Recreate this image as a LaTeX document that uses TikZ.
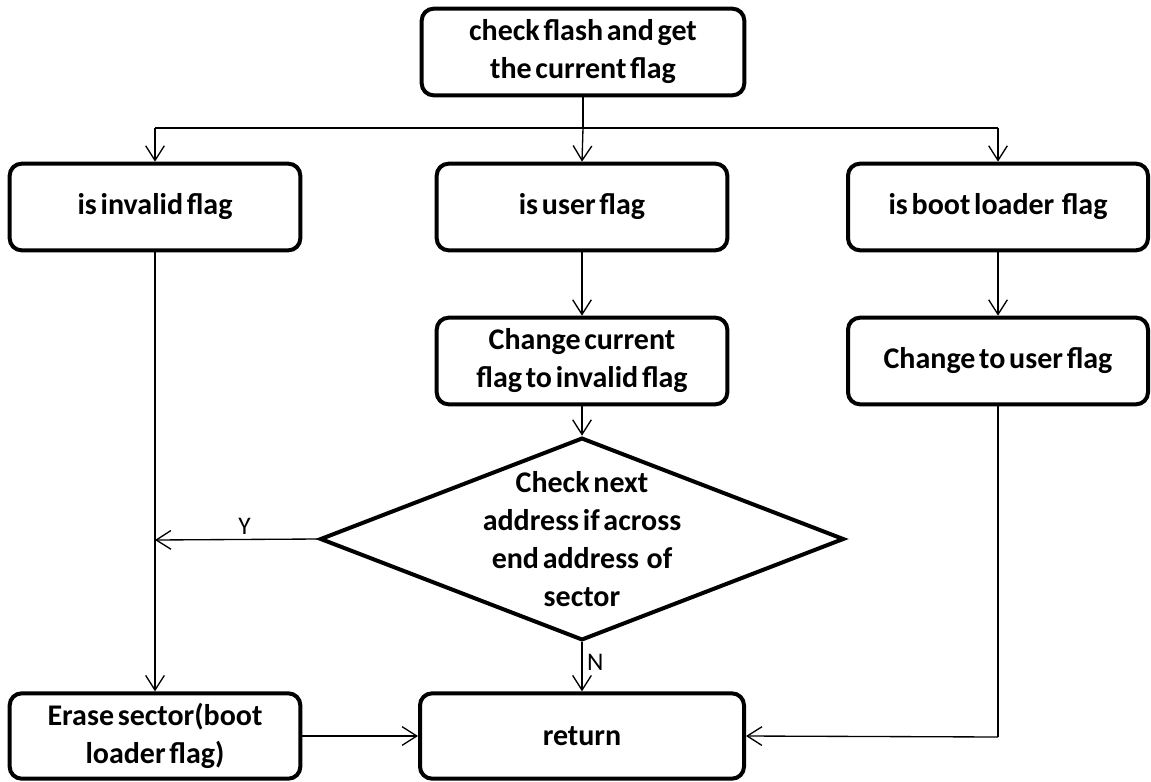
\documentclass[tikz,border=0pt]{standalone}
\usepackage{fontspec}
\setmainfont{Carlito}[WordSpace=0.55]
\usetikzlibrary{arrows.meta,shapes.geometric}
\tikzset{
  boxfont/.style={font=\fontsize{22.5}{28.5}\selectfont\bfseries},
  stepbox/.style={draw, line width=3pt, rounded corners=9pt, fill=white,
    align=center, boxfont, minimum height=65pt, inner sep=0pt},
  decision/.style={draw, diamond, line width=3pt, fill=white, inner sep=0pt,
    minimum width=393pt, minimum height=152pt},
  flow/.style={line width=1pt, -{Straight Barb[length=11pt,width=14pt,line width=1pt]}},
  link/.style={line width=1pt},
  tag/.style={font=\fontsize{19}{22}\selectfont}
}
\begin{document}
\begin{tikzpicture}[x=0.75pt,y=-0.75pt]
\useasboundingbox (0,0) rectangle (1151,781);

% process steps
\node[stepbox, minimum width=242pt] (start) at (583,52) {check flash and get\\the current flag};
\node[stepbox, minimum width=218pt] (inv) at (155,207) {is invalid flag};
\node[stepbox, minimum width=218pt] (usr) at (582,207) {is user flag};
\node[stepbox, minimum width=225pt] (boot) at (998,207) {is boot loader\ \ flag};
\node[stepbox, minimum width=218pt] (chinv) at (582,361) {Change current\\flag to invalid flag};
\node[stepbox, minimum width=225pt] (chusr) at (998,361) {Change to user flag};
\node[decision] (dec) at (582,539) {};
\node[align=center, boxfont] (dectext) at (dec) {Check next\\address if across\\end address\ \ of\\sector};
\node[stepbox, minimum width=218pt, minimum height=64pt] (erase) at (155,736) {Erase sector(boot\\loader flag)};
\node[stepbox, minimum width=243pt, minimum height=64pt] (ret) at (582,736) {return};

% branch points
\coordinate (split) at (583,128);
\coordinate (splitL) at (155,128);
\coordinate (splitR) at (998,128);
\coordinate (merge) at (155,540);
\coordinate (corner) at (998,737);

% connectors
\draw[link] (start.south) -- (split);
\draw[link] (splitL) -- (splitR);
\draw[flow] (splitL) -- (inv.north);
\draw[flow] (split) -- (usr.north);
\draw[flow] (splitR) -- (boot.north);
\draw[flow] (usr.south) -- (chinv.north);
\draw[flow] (boot.south) -- (chusr.north);
\draw[flow] (chinv.south) -- (dec.north);
\draw[flow] (dec.west) -- node[tag, above, pos=0.45] {Y} (merge);
\draw[flow] (inv.south) -- (erase.north);
\draw[flow] (dec.south) -- node[tag, right, pos=0.4] {N} (ret.north);
\draw[flow] (erase.east) -- (ret.west);
\draw[link] (chusr.south) -- (corner);
\draw[flow] (corner) -- (ret.east);
\end{tikzpicture}
\end{document}
